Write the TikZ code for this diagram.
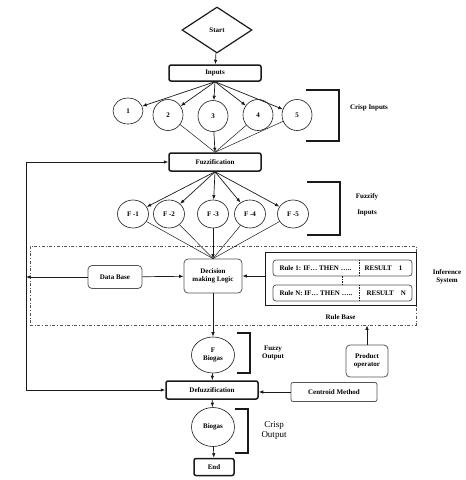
\documentclass[tikz,border=0pt]{standalone}
\usepackage{fontspec}
\setmainfont{Liberation Serif}
\usetikzlibrary{arrows.meta,positioning,shapes.geometric,calc}
\definecolor{Ink}{HTML}{1A1A1A}
\definecolor{Muted}{HTML}{555555}

\begin{document}
\begin{tikzpicture}[x=1pt,y=-1pt,
  font=\fontsize{7}{8}\selectfont\bfseries,
  thickbox/.style={draw=Ink,line width=1.5pt,rounded corners=2pt,minimum width=92pt,minimum height=17pt,inner sep=1pt},
  circ/.style={ellipse,draw=Ink,line width=0.6pt,minimum width=30pt,minimum height=31pt,inner sep=0pt,align=center},
  softbox/.style={draw=Muted,line width=0.8pt,rounded corners=4pt,align=center,inner sep=1pt},
  rulebox/.style={draw=Muted,line width=0.8pt,rounded corners=3pt,minimum width=139pt,minimum height=16pt,inner sep=0pt},
  brace/.style={line width=1.5pt,draw=Ink},
  arrow/.style={-{Latex[length=4.5pt,width=3.5pt]},line width=0.7pt,draw=Ink},
  link/.style={line width=0.5pt,draw=Ink}
]
\useasboundingbox (0,0) rectangle (466,480);
% inference frame first, so the blocks sit on top of it
\node[draw=Muted,dash dot,line width=0.7pt,minimum width=386pt,minimum height=79pt,inner sep=0pt] (inf) at (223,285.5) {};
\node[align=center] (inflab) at (447,277) {Inference\\System};

\node[diamond,draw=Ink,line width=1.2pt,minimum width=70pt,minimum height=46pt,inner sep=0pt] (start) at (217,30) {Start};
\node[thickbox,minimum height=16pt] (inp) at (215,73) {Inputs};
\node[circ,minimum height=26pt] (c1) at (128,111) {1};
\node[circ] (c2) at (168,115) {2};
\node[circ] (c3) at (213,116) {3};
\node[circ] (c4) at (258,115) {4};
\node[circ] (c5) at (297,115) {5};
\node[thickbox,minimum height=18pt] (fuzz) at (215,162) {Fuzzification};
\node[circ,minimum width=31pt,minimum height=28pt] (f1) at (133,214) {F -1};
\node[circ,minimum width=31pt,minimum height=28pt] (f2) at (169,214) {F -2};
\node[circ,minimum width=31pt,minimum height=28pt] (f3) at (213,214) {F -3};
\node[circ,minimum width=31pt,minimum height=28pt] (f4) at (250,214) {F -4};
\node[circ,minimum width=31pt,minimum height=28pt] (f5) at (293,214) {F -5};

\node[softbox,minimum width=54pt,minimum height=23pt] (db) at (115,277) {Data Base};
\node[softbox,minimum width=58pt,minimum height=34pt] (dml) at (213,276) {Decision\\making Logic};
\node[draw=Ink,line width=0.8pt,minimum width=151pt,minimum height=53pt,inner sep=0pt] (rb) at (340.5,278.5) {};
\node[rulebox] (r1) at (342.5,268) {};
\node[rulebox] (rN) at (342.5,293) {};
\node[anchor=west] (r1if) at (276,268) {Rule 1: IF… THEN …..};
\node[anchor=west] (r1res) at (361,268) {RESULT\quad 1};
\node[anchor=west] (rNif) at (276,293) {Rule N: IF… THEN …..};
\node[anchor=west] (rNres) at (363,293) {RESULT\quad N};
\node[below=6pt of rb] (rblab) {Rule Base};
\node[softbox,minimum width=42pt,minimum height=32pt] (prod) at (367,361) {Product\\operator};

\node[circ,minimum width=43pt,minimum height=36pt] (fb) at (213,355) {F\\Biogas};
\node[thickbox,minimum height=18pt] (defuzz) at (212,390) {Defuzzification};
\node[softbox,rounded corners=2pt,minimum width=86pt,minimum height=19pt] (cm) at (334,392) {Centroid Method};
\node[circ,minimum width=43pt,minimum height=39pt] (bio) at (213,427) {Biogas};
\node[thickbox,minimum width=40pt,minimum height=17pt] (fin) at (214,467) {End};

% brackets and their labels
\draw[brace] (306,90) -- (339,90) -- (339,141) -- (306,141);
\node (crispin) at (369,108) {Crisp Inputs};
\draw[brace] (307,182) -- (340,182) -- (340,235) -- (307,235);
\node[align=center] (fuzzin) at (367,205) {Fuzzify\\[8pt]Inputs};
\draw[brace] (237,333) -- (250,333) -- (250,373) -- (237,373);
\node[align=center] (fuzzout) at (273,353) {Fuzzy\\Output};
\draw[brace] (235,409) -- (248,409) -- (248,453) -- (235,453);
\node[align=center,font=\fontsize{9}{10}\selectfont] (crispout) at (274,430) {Crisp\\Output};

% connectors
\draw[arrow] (start) -- (inp);
\draw[arrow] (inp.south) -- (c1);
\draw[arrow] (inp.south) -- (c2);
\draw[arrow] (inp.south) -- (c3);
\draw[arrow] (inp.south) -- (c4);
\draw[arrow] (inp.south) -- (c5);
\draw[link] (c2) -- (fuzz.north);
\draw[arrow] (c3) -- (fuzz.north);
\draw[link] (c4) -- (fuzz.north);
\draw[link] (c5) -- (fuzz.north);
\draw[arrow] (fuzz.south) -- (f1);
\draw[arrow] (fuzz.south) -- (f2);
\draw[arrow] (fuzz.south) -- (f3);
\draw[arrow] (fuzz.south) -- (f4);
\draw[arrow] (fuzz.south) -- (f5);
\draw[link] (f1) -- (dml.north);
\draw[link] (f2) -- (dml.north);
\draw[arrow] (f3) -- (dml.north);
\draw[link] (f4) -- (dml.north);
\draw[link] (f5) -- (dml.north);
\draw[arrow] (db) -- (dml);
\draw[arrow] (rb.west |- dml) -- (dml);
\draw[link,dash pattern=on 1.5pt off 1pt] (r1.north west) ++(87,0) -- ++(0,16);
\draw[link,dash pattern=on 1.5pt off 1pt] (rN.north west) ++(87,0) -- ++(0,16);
\draw[link,dash pattern=on 1.5pt off 1pt] (r1) -- (rN);
\coordinate (lft) at (26,277);
\draw[arrow] (db) -- (lft);
\draw[arrow] (lft) |- (fuzz);
\draw[arrow] (lft) |- (defuzz);
\draw[arrow] (prod) -- (prod |- inf.south);
\draw[arrow] (dml) -- (fb);
\draw[arrow] (fb) -- (defuzz);
\draw[arrow] (cm) -- (cm -| defuzz.east);
\draw[arrow] (defuzz) -- (bio);
\draw[arrow] (bio) -- (fin);
\end{tikzpicture}
\end{document}
